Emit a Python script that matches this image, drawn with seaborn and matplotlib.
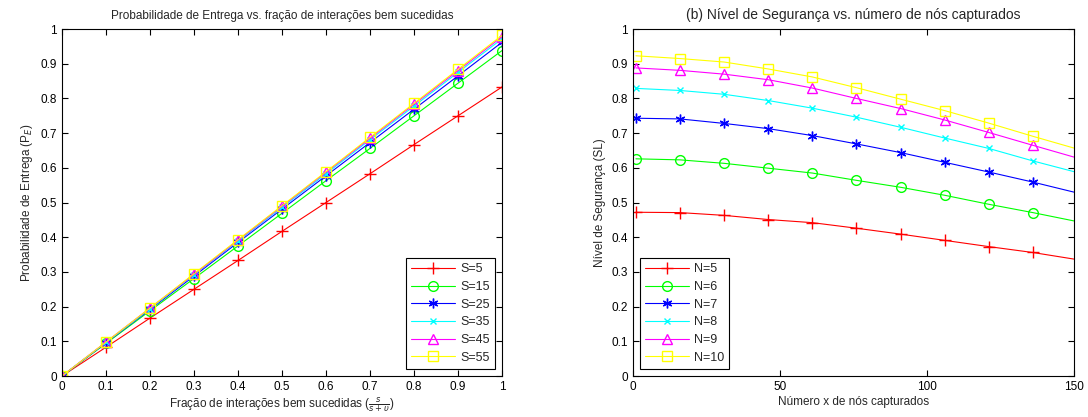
import matplotlib
matplotlib.use("Agg")
import matplotlib.pyplot as plt
import seaborn as sns
import numpy as np

# ---- Data: left panel ----
frac = [0.0, 0.1, 0.2, 0.3, 0.4, 0.5, 0.6, 0.7, 0.8, 0.9, 1.0]
pe_s5 = [0, 0.083, 0.167, 0.250, 0.333, 0.417, 0.500, 0.583, 0.667, 0.750, 0.833]
pe_s15 = [0, 0.094, 0.188, 0.281, 0.375, 0.469, 0.563, 0.656, 0.750, 0.844, 0.938]
pe_s25 = [0, 0.096, 0.192, 0.288, 0.385, 0.481, 0.577, 0.673, 0.769, 0.865, 0.962]
pe_s35 = [0, 0.097, 0.194, 0.292, 0.389, 0.486, 0.583, 0.681, 0.778, 0.875, 0.972]
pe_s45 = [0, 0.098, 0.196, 0.293, 0.391, 0.489, 0.587, 0.685, 0.783, 0.880, 0.978]
pe_s55 = [0, 0.098, 0.196, 0.295, 0.393, 0.491, 0.589, 0.688, 0.786, 0.884, 0.982]
left_labels = ["S=5", "S=15", "S=25", "S=35", "S=45", "S=55"]

# ---- Data: right panel ----
captured = [1, 16, 31, 46, 61, 76, 91, 106, 121, 136, 150]
sl_n5 = [0.472, 0.471, 0.463, 0.451, 0.442, 0.426, 0.409, 0.391, 0.373, 0.356, 0.337]
sl_n6 = [0.626, 0.623, 0.613, 0.599, 0.585, 0.564, 0.544, 0.521, 0.495, 0.471, 0.447]
sl_n7 = [0.743, 0.741, 0.728, 0.713, 0.693, 0.669, 0.644, 0.616, 0.588, 0.559, 0.530]
sl_n8 = [0.829, 0.823, 0.812, 0.794, 0.772, 0.746, 0.717, 0.686, 0.656, 0.620, 0.589]
sl_n9 = [0.888, 0.881, 0.870, 0.854, 0.830, 0.800, 0.771, 0.738, 0.702, 0.665, 0.631]
sl_n10 = [0.923, 0.915, 0.905, 0.885, 0.862, 0.831, 0.798, 0.765, 0.729, 0.691, 0.657]
right_labels = ["N=5", "N=6", "N=7", "N=8", "N=9", "N=10"]

colors = ["#ff0000", "#00ff00", "#0000ff", "#00ffff", "#ff00ff", "#ffff00"]
markers = ["+", "o", (6, 2, 0), "x", "^", "s"]
msizes = [8, 7, 7, 5, 7, 7]

sns.set_style("white")
plt.rcParams["font.family"] = ["Liberation Sans", "DejaVu Sans"]
plt.rcParams["mathtext.fontset"] = "dejavusans"
plt.rcParams["xtick.direction"] = "in"
plt.rcParams["ytick.direction"] = "in"

fig = plt.figure(figsize=(10.88, 4.17), dpi=100)
ax1 = fig.add_axes([0.057, 0.0983, 0.4044, 0.832])
ax2 = fig.add_axes([0.5818, 0.0983, 0.4053, 0.832])

left_series = [pe_s5, pe_s15, pe_s25, pe_s35, pe_s45, pe_s55]
for ys, lab, c, m, ms in zip(left_series, left_labels, colors, markers, msizes):
    sns.lineplot(x=frac, y=ys, ax=ax1, color=c, marker=m, markersize=ms,
                 markerfacecolor="none", markeredgecolor=c, markeredgewidth=1.0,
                 linewidth=0.8, label=lab)

right_series = [sl_n5, sl_n6, sl_n7, sl_n8, sl_n9, sl_n10]
for ys, lab, c, m, ms in zip(right_series, right_labels, colors, markers, msizes):
    sns.lineplot(x=captured, y=ys, ax=ax2, color=c, marker=m, markersize=ms,
                 markerfacecolor="none", markeredgecolor=c, markeredgewidth=1.0,
                 linewidth=0.8, label=lab, markevery=slice(0, 10))

tick_fs = 8.5
for ax in (ax1, ax2):
    ax.set_ylim(0, 1)
    ax.set_yticks(np.arange(0, 1.01, 0.1))
    ax.set_yticklabels(["0", "0.1", "0.2", "0.3", "0.4", "0.5", "0.6", "0.7", "0.8", "0.9", "1"])
    ax.tick_params(axis="both", which="both", top=True, right=True, bottom=True, left=True,
                   direction="in", length=4, width=0.8, labelsize=tick_fs, colors="black")
    for sp in ax.spines.values():
        sp.set_visible(True)
        sp.set_color("black")
        sp.set_linewidth(0.8)
    ax.grid(False)

ax1.set_xlim(0, 1)
ax1.set_xticks(frac)
ax1.set_xticklabels(["0", "0.1", "0.2", "0.3", "0.4", "0.5", "0.6", "0.7", "0.8", "0.9", "1"])
ax2.set_xlim(0, 150)
ax2.set_xticks([0, 50, 100, 150])
ax2.set_xticklabels(["0", "50", "100", "150"])

ax1.set_title("Probabilidade de Entrega vs. fração de interações bem sucedidas", fontsize=8.5, pad=7)
ax1.set_xlabel(r"Fração de interações bem sucedidas ($\frac{s}{s+\upsilon}$)", fontsize=8.5, labelpad=2)
ax1.set_ylabel(r"Probabilidade de Entrega (P$_E$)", fontsize=8.5)
ax2.set_title("(b) Nível de Segurança vs. número de nós capturados", fontsize=10, pad=7)
ax2.set_xlabel("Número x de nós capturados", fontsize=8.5, labelpad=2)
ax2.set_ylabel("Nível de Segurança (SL)", fontsize=8.5)

for ax in (ax1, ax2):
    leg = ax.legend(loc="lower right" if ax is ax1 else "lower left", fontsize=9,
                    frameon=True, fancybox=False, edgecolor="black", framealpha=1,
                    handlelength=3.5, borderpad=0.4, labelspacing=0.45,
                    handletextpad=0.4, borderaxespad=0.6)
    leg.get_frame().set_linewidth(0.8)

fig.savefig("out.png", dpi=100)
